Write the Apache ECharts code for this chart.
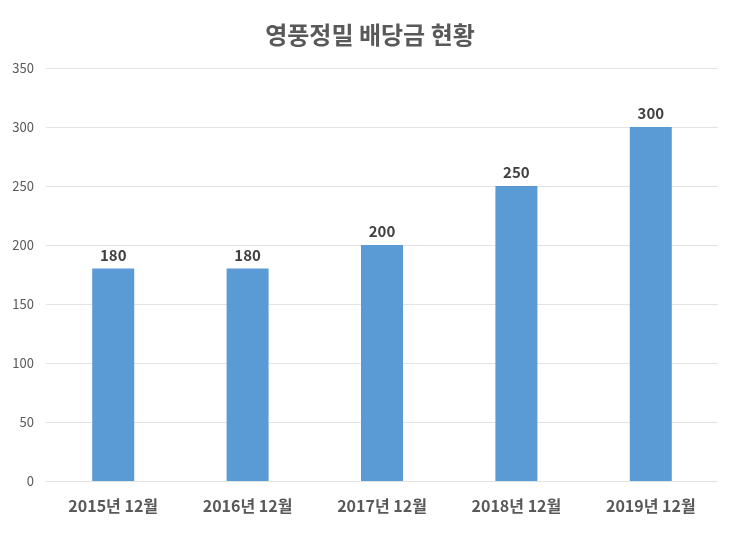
<!DOCTYPE html>
<html>
<head>
<meta charset="utf-8">
<script src="https://cdn.jsdelivr.net/npm/echarts@6/dist/echarts.min.js"></script>
<style>
  html, body { margin: 0; padding: 0; background: #fff; }
  #chart { width: 740px; height: 535px; }
</style>
</head>
<body>
<div id="chart"></div>
<script>
const titleText = '영풍정밀 배당금 현황'
const categories = ['2015년 12월', '2016년 12월', '2017년 12월', '2018년 12월', '2019년 12월']
const dividends = [180, 180, 200, 250, 300]

const FONT = "'Noto Sans CJK KR', 'Noto Sans', sans-serif"

const chart = echarts.init(document.getElementById('chart'))

chart.setOption({
  animation: false,
  backgroundColor: '#fff',
  title: {
    text: titleText,
    left: 'center',
    top: 18,
    textStyle: { fontSize: 24, fontWeight: 'bold', color: '#595959', fontFamily: FONT },
  },
  grid: { left: 46, right: 22, top: 68, bottom: 54 },
  xAxis: {
    type: 'category',
    data: categories,
    axisLine: { show: false },
    axisTick: { show: false },
    axisLabel: { margin: 17, fontSize: 16, fontWeight: 'bold', color: '#595959', fontFamily: FONT },
  },
  yAxis: {
    type: 'value',
    min: 0,
    max: 350,
    interval: 50,
    axisLine: { show: false },
    axisTick: { show: false },
    axisLabel: { margin: 12, fontSize: 13, color: '#595959', fontFamily: FONT },
    splitLine: { lineStyle: { color: '#E3E3E3', width: 1 } },
  },
  series: [{
    type: 'bar',
    data: dividends,
    barWidth: 42,
    itemStyle: { color: '#5B9BD5' },
    label: {
      show: true,
      position: 'top',
      distance: 6,
      fontSize: 15,
      fontWeight: 'bold',
      color: '#404040',
      fontFamily: FONT,
    },
  }],
})
</script>
</body>
</html>
